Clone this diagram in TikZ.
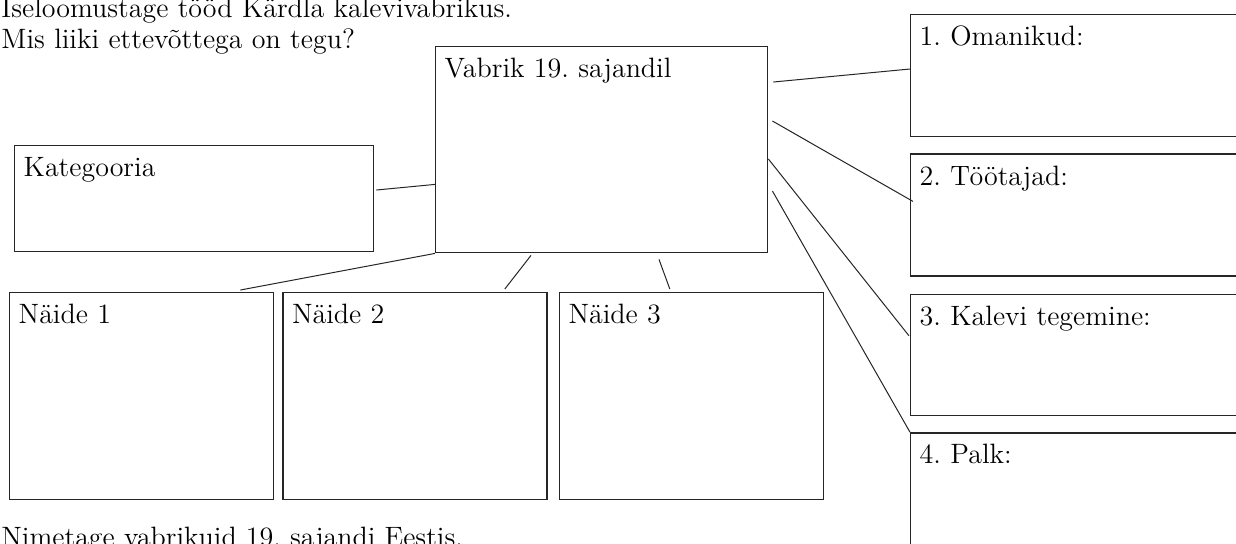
\documentclass[tikz,border=0pt]{standalone}
\usetikzlibrary{positioning,calc}
\frenchspacing

\begin{document}
\begin{tikzpicture}[x=0.5pt,y=-0.5pt,node distance=8pt,
        font=\fontsize{14}{15.5}\selectfont,
        cell/.style={draw=black!85,line width=0.7pt,inner xsep=4.5pt,inner ysep=0pt,
            text height=15.5pt,align=left},
        link/.style={draw=black!85,line width=0.5pt}]

    \useasboundingbox (0,0) rectangle (1236,543);
    \clip (0,0) rectangle (1236,543);

    \node[anchor=base west,inner sep=0pt,text width=300pt] (task) at (1,17) {Iseloomustage tööd Kärdla kalevivabrikus.\\Mis liiki ettevõttega on tegu?};
    \node[anchor=base west,inner sep=0pt] (names) at (1,546) {Nimetage vabrikuid 19. sajandi Eestis.};

    \node[cell,anchor=north west,text width=157pt,text depth=87.5pt] (vab) at (435,46) {Vabrik 19. sajandil};
    \node[cell,anchor=north west,text width=170.5pt,text depth=37.5pt] (kat) at (14,145) {Kategooria};

    \node[cell,anchor=north west,text width=123pt,text depth=88pt] (n1) at (9,292) {Näide 1};
    \node[cell,text width=123pt,text depth=88pt,right=4pt of n1] (n2) {Näide 2};
    \node[cell,text width=123pt,text depth=88pt,right=5.5pt of n2] (n3) {Näide 3};

    \node[cell,anchor=north west,text width=159pt,text depth=45.5pt] (r1) at (910,14) {1. Omanikud:};
    \node[cell,text width=159pt,text depth=45.5pt,below=of r1] (r2) {2. Töötajad:};
    \node[cell,text width=159pt,text depth=45pt,below=8.5pt of r2] (r3) {3. Kalevi tegemine:};
    \node[cell,text width=159pt,text depth=60pt,below=of r3] (r4) {4. Palk:};

    \draw[link] ($(kat.north east)+(2,45)$) -- ($(vab.south west)+(0,-69)$);
    \draw[link] (vab.south west) -- ($(n1.north east)+(-34,-2)$);
    \draw[link] ($(vab.south west)+(96,2)$) -- ($(n2.north east)+(-43,-3)$);
    \draw[link] ($(vab.south west)+(224,6)$) -- ($(n3.north west)+(111,-3)$);
    \draw[link] ($(vab.north east)+(5,36)$) -- ($(r1.north west)+(0,55)$);
    \draw[link] ($(vab.north east)+(4,75)$) -- ($(r2.north west)+(3,48)$);
    \draw[link] ($(vab.north east)+(0,113)$) -- ($(r3.north west)+(-1,42)$);
    \draw[link] ($(vab.north east)+(4,145)$) -- (r4.north west);

\end{tikzpicture}
\end{document}
